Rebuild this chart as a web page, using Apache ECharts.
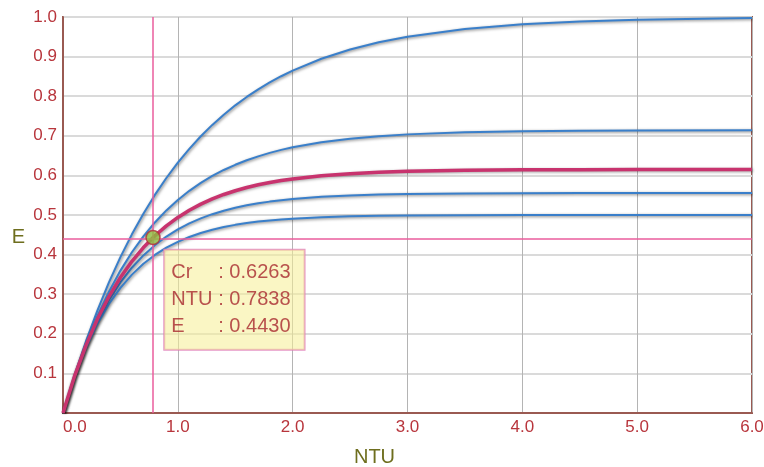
<!DOCTYPE html>
<html>
<head>
<meta charset="utf-8">
<script src="https://cdn.jsdelivr.net/npm/echarts@6/dist/echarts.min.js"></script>
<style>
  html, body { margin: 0; padding: 0; background: #fff; }
  #chart { width: 764px; height: 467px; }
</style>
</head>
<body>
<div id="chart"></div>
<script>
// NTU values where the curves were read
const ntu = [0, 0.1, 0.2, 0.3, 0.4, 0.5, 0.6, 0.7, 0.8, 0.9, 1.0, 1.1, 1.2, 1.3, 1.4, 1.5, 1.6, 1.7, 1.8, 1.9, 2.0,
  2.25, 2.5, 2.75, 3.0, 3.5, 4.0, 4.5, 5.0, 6.0];

// effectiveness E for each Cr curve
const eCr0 = [0, 0.0952, 0.1813, 0.2592, 0.3297, 0.3935, 0.4512, 0.5034, 0.5507, 0.5934, 0.6321, 0.6671, 0.6988, 0.7275, 0.7534, 0.7769, 0.7981, 0.8173, 0.8347, 0.8504, 0.8647,
  0.8946, 0.9179, 0.9361, 0.9502, 0.9698, 0.9817, 0.9889, 0.9933, 0.9975];
const eCr04 = [0, 0.0933, 0.1744, 0.2450, 0.3063, 0.3596, 0.4059, 0.4462, 0.4812, 0.5116, 0.5381, 0.5611, 0.5811, 0.5986, 0.6137, 0.6268, 0.6382, 0.6481, 0.6568, 0.6644, 0.6709,
  0.6836, 0.6927, 0.6991, 0.7036, 0.7090, 0.7116, 0.7130, 0.7136, 0.7141];
const eCrSel = [0, 0.0923, 0.1708, 0.2374, 0.2941, 0.3422, 0.3831, 0.4179, 0.4475, 0.4726, 0.4939, 0.5121, 0.5275, 0.5407, 0.5518, 0.5613, 0.5693, 0.5762, 0.5820, 0.5869, 0.5911,
  0.5990, 0.6043, 0.6079, 0.6102, 0.6128, 0.6140, 0.6145, 0.6147, 0.6149];
const eCr08 = [0, 0.0915, 0.1679, 0.2318, 0.2851, 0.3297, 0.3669, 0.3979, 0.4239, 0.4456, 0.4637, 0.4788, 0.4915, 0.5021, 0.5108, 0.5182, 0.5244, 0.5295, 0.5338, 0.5374, 0.5404,
  0.5459, 0.5494, 0.5516, 0.5530, 0.5545, 0.5551, 0.5554, 0.5555, 0.5555];
const eCr1 = [0, 0.0906, 0.1648, 0.2256, 0.2753, 0.3161, 0.3494, 0.3767, 0.3991, 0.4174, 0.4323, 0.4446, 0.4546, 0.4629, 0.4696, 0.4751, 0.4796, 0.4833, 0.4863, 0.4888, 0.4908,
  0.4944, 0.4966, 0.4980, 0.4988, 0.4995, 0.4998, 0.4999, 0.5000, 0.5000];

// selected point
const selCr = 0.6263;
const selNtu = 0.7838;
const selE = 0.4430;

const blueCurves = [eCr0, eCr04, eCr08, eCr1];

const labelColor = '#b8353c';
const nameColor = '#6e6e1e';
const fontFam = '"Liberation Sans", Arial, sans-serif';

const pairs = arr => ntu.map((x, i) => [x, arr[i]]);

const chart = echarts.init(document.getElementById('chart'));

const series = blueCurves.map(arr => ({
  type: 'line',
  data: pairs(arr),
  showSymbol: false,
  silent: true,
  lineStyle: {
    color: '#3a7fca',
    width: 2,
    shadowColor: 'rgba(0,0,0,0.5)',
    shadowBlur: 3,
    shadowOffsetX: 1,
    shadowOffsetY: 1
  },
  z: 2
}));

series.push({
  type: 'line',
  data: pairs(eCrSel),
  showSymbol: false,
  silent: true,
  lineStyle: {
    color: '#c8336e',
    width: 3.5,
    shadowColor: 'rgba(0,0,0,0.35)',
    shadowBlur: 3,
    shadowOffsetX: 1,
    shadowOffsetY: 1
  },
  z: 3
});

series.push({
  type: 'scatter',
  data: [[selNtu, selE]],
  symbolSize: 14,
  itemStyle: { color: '#8cbb3c', borderColor: '#b0303a', borderWidth: 1.5 },
  z: 5,
  label: {
    show: true,
    position: [19, 20],
    backgroundColor: 'rgba(246,239,150,0.7)',
    borderColor: '#e07cb8',
    borderWidth: 1,
    padding: [9, 14, 10, 7],
    formatter: () => [
      '{a|Cr}{b|: ' + selCr.toFixed(4) + '}',
      '{a|NTU}{b|: ' + selNtu.toFixed(4) + '}',
      '{a|E}{b|: ' + selE.toFixed(4) + '}'
    ].join('\n'),
    rich: {
      a: { width: 47, fontSize: 20, lineHeight: 27, color: '#a8282e', fontFamily: fontFam },
      b: { fontSize: 20, lineHeight: 27, color: '#a8282e', fontFamily: fontFam }
    }
  },
  markLine: {
    silent: true,
    symbol: 'none',
    label: { show: false },
    lineStyle: { color: '#ea5c9c', width: 1.5, type: 'solid' },
    data: [{ xAxis: selNtu }, { yAxis: selE }]
  }
});

const option = {
  animation: false,
  grid: {
    left: 63,
    right: 12,
    top: 17,
    bottom: 54,
    outerBoundsMode: 'none',
    show: true,
    borderColor: '#9a5a52',
    borderWidth: 2,
    backgroundColor: '#fff'
  },
  xAxis: {
    type: 'value',
    min: 0,
    max: 6,
    interval: 1,
    name: 'NTU',
    nameLocation: 'middle',
    nameGap: 34,
    nameTextStyle: { color: nameColor, fontSize: 20, fontFamily: fontFam, padding: [0, 66, 0, 0] },
    axisLine: { show: true, lineStyle: { color: '#9a5a52', width: 2 } },
    axisTick: { show: false },
    axisLabel: {
      color: labelColor,
      fontSize: 17,
      fontFamily: fontFam,
      margin: 6,
      alignMinLabel: 'left',
      formatter: v => v.toFixed(1)
    },
    splitLine: { show: true, lineStyle: { color: '#b4b4b4', width: 1 } }
  },
  yAxis: {
    type: 'value',
    min: 0,
    max: 1,
    interval: 0.1,
    name: 'E',
    nameLocation: 'middle',
    nameRotate: 0,
    nameGap: 38,
    nameTextStyle: { color: nameColor, fontSize: 20, fontFamily: fontFam, verticalAlign: 'top', lineHeight: 44 },
    axisLine: { show: true, lineStyle: { color: '#9a5a52', width: 2 } },
    axisTick: { show: false },
    axisLabel: {
      color: labelColor,
      fontSize: 17,
      fontFamily: fontFam,
      margin: 6,
      showMinLabel: false,
      formatter: v => v.toFixed(1)
    },
    splitLine: { show: true, lineStyle: { color: '#dadada', width: 2 } }
  },
  series: series
};

chart.setOption(option);
</script>
</body>
</html>
